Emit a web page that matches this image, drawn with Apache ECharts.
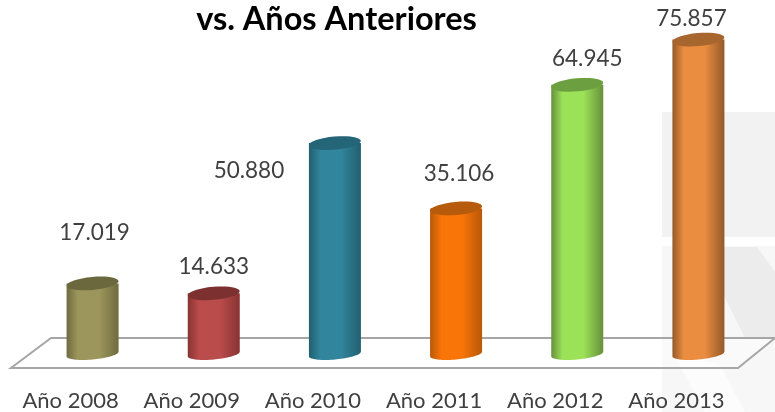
<!DOCTYPE html>
<html lang="es">
<head>
    <meta charset="UTF-8">
    <title>vs. Años Anteriores</title>
    <script src="https://cdn.jsdelivr.net/npm/echarts@6/dist/echarts.min.js"></script>
    <style>
        html, body { margin: 0; padding: 0; background: #fff; }
        #chart { width: 775px; height: 412px; }
    </style>
</head>
<body>
<div id="chart"></div>
<script type="text/javascript">
    var categories = ['Año 2008', 'Año 2009', 'Año 2010', 'Año 2011', 'Año 2012', 'Año 2013'];
    var values = [17019, 14633, 50880, 35106, 64945, 75857];
    var valueLabels = ['17.019', '14.633', '50.880', '35.106', '64.945', '75.857'];

    // edge, centre, top cap
    var barColors = [
        ['#6f6b40', '#9d965c', '#6c683e'],
        ['#883333', '#ba4c4b', '#7d3030'],
        ['#215f70', '#31859c', '#246577'],
        ['#b85808', '#f97508', '#b65b0c'],
        ['#688f3c', '#9ce258', '#6c9f40'],
        ['#96592a', '#ea8d40', '#a8662f']
    ];
    // the labels sit wherever they were dragged to in the original, so offset from bar top
    var labelShift = [[2, -51], [0, -27], [-86, 28], [3, -35], [10, -26], [-7, -21]];

    var depthShift = 22;  // bars stand further back on the floor than their axis labels
    var tilt = 0.09;

    var chart = echarts.init(document.getElementById('chart'));

    // body outline: straight sides, tilted half ellipse along the bottom
    function bodyPoints(cx, topY, baseY, rx, ry) {
        var pts = [[cx - rx, topY], [cx + rx, topY]];
        for (var k = 0; k <= 40; k++) {
            var t = Math.PI * k / 40;
            pts.push([
                cx + rx * Math.cos(t),
                baseY + ry * Math.sin(t) - rx * Math.cos(t) * Math.sin(tilt)
            ]);
        }
        return pts;
    }

    function cylinder(params, api) {
        var i = api.value(0);
        var top = api.coord([i, api.value(1)]);
        var base = api.coord([i, 0]);
        var cx = top[0] + depthShift;
        var rx = 26;
        var c = barColors[i];
        var grad = new echarts.graphic.LinearGradient(0, 0, 1, 0, [
            {offset: 0, color: c[0]},
            {offset: 0.22, color: c[1]},
            {offset: 0.62, color: c[1]},
            {offset: 1, color: c[0]}
        ]);
        return {
            type: 'group',
            children: [
                {
                    type: 'polygon',
                    shape: {points: bodyPoints(cx, top[1], base[1], rx, 5.5)},
                    style: {fill: grad}
                },
                {
                    type: 'ellipse',
                    x: cx, y: top[1], rotation: tilt,
                    shape: {cx: 0, cy: 0, rx: rx, ry: 6.5},
                    style: {fill: c[2]}
                },
                {
                    type: 'text',
                    x: cx + labelShift[i][0], y: top[1] + labelShift[i][1],
                    style: {
                        text: valueLabels[i],
                        fill: '#404040',
                        font: '22.5px Lato',
                        align: 'center',
                        verticalAlign: 'middle'
                    }
                }
            ]
        };
    }

    var option = {
        backgroundColor: '#fff',
        animation: false,
        title: {
            text: 'vs. Años Anteriores',
            left: 336.5,
            top: 3,
            padding: 0,
            textAlign: 'center',
            textStyle: {fontFamily: 'Lato', fontWeight: 'bold', fontSize: 32.5, color: '#000'}
        },
        grid: {left: 10, width: 727, top: 0, height: 354},
        xAxis: {
            type: 'category',
            data: categories,
            axisLine: {show: false},
            axisTick: {show: false},
            axisLabel: {margin: 36, interval: 0, fontFamily: 'Lato', fontSize: 22, color: '#404040'}
        },
        yAxis: {type: 'value', min: 0, max: 85400, show: false},
        graphic: [
            // watermark behind the plot
            {type: 'rect', z: 0, shape: {x: 662, y: 112, width: 113, height: 125}, style: {fill: '#f2f2f2'}},
            {type: 'polygon', z: 0, shape: {points: [[662, 246], [775, 246], [775, 412], [662, 412]]}, style: {fill: '#f7f7f7'}},
            {type: 'polygon', z: 0, shape: {points: [[700, 247], [757, 247], [775, 272], [775, 338], [745, 338]]}, style: {fill: '#ececec'}},
            {type: 'polygon', z: 0, shape: {points: [[672, 352], [720, 365], [745, 412], [705, 412]]}, style: {fill: '#fcfcfc'}},
            // floor
            {
                type: 'polygon', z: 1,
                shape: {points: [[51, 338], [775, 338], [738, 368], [11, 368]]},
                style: {fill: 'rgba(255,255,255,0.35)', stroke: '#a6a6a6', lineWidth: 2}
            }
        ],
        series: [{
            type: 'custom',
            z: 5,
            clip: false,
            renderItem: cylinder,
            encode: {x: 0, y: 1},
            data: values.map(function (v, i) { return [i, v]; })
        }]
    };
    chart.setOption(option);
</script>
</body>
</html>
